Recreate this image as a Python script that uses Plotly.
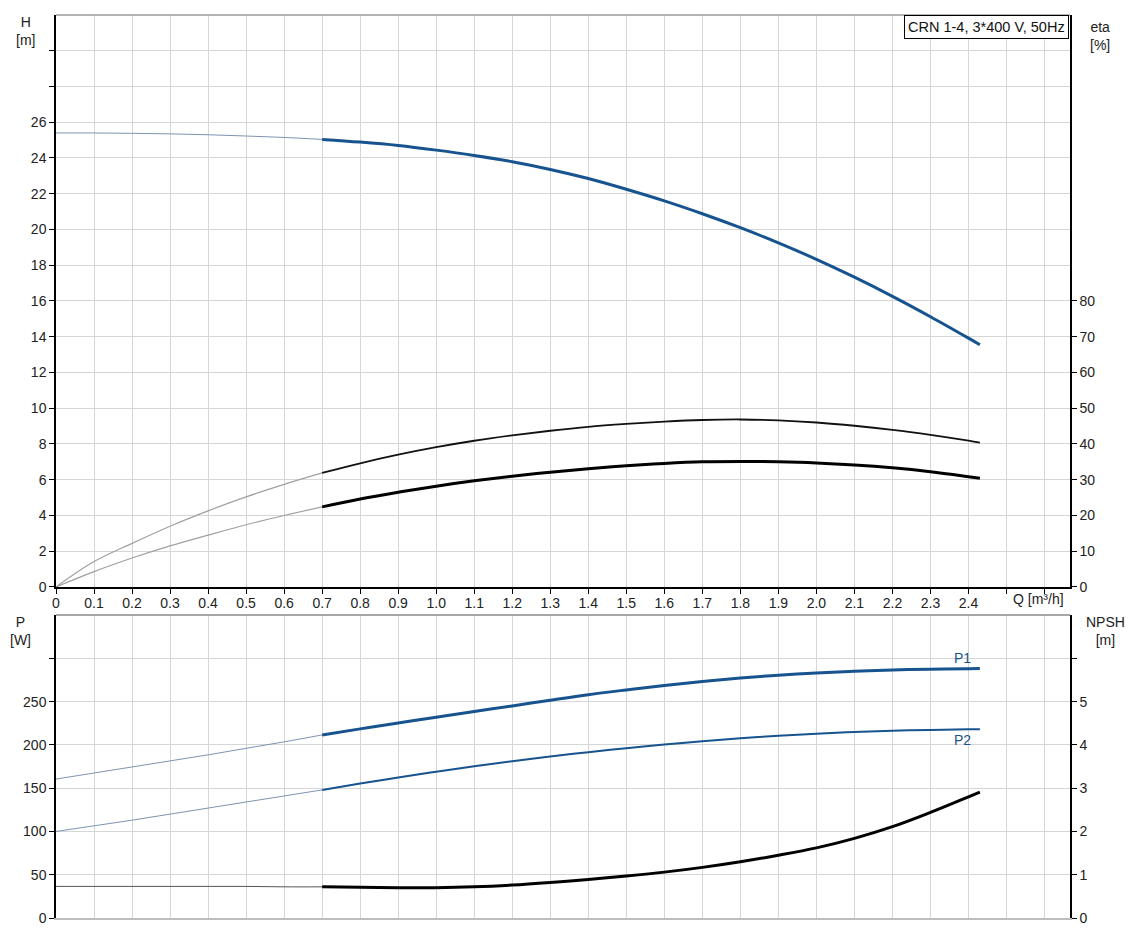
import plotly.graph_objects as go

# ---- data ----
Q = [0.0, 0.1, 0.2, 0.3, 0.4, 0.5, 0.6, 0.7, 0.8, 0.9, 1.0, 1.1, 1.2, 1.3,
     1.4, 1.5, 1.6, 1.7, 1.8, 1.9, 2.0, 2.1, 2.2, 2.3, 2.4, 2.43]
H = [25.4, 25.4, 25.38, 25.35, 25.3, 25.23, 25.15, 25.04, 24.89, 24.7, 24.44,
     24.14, 23.79, 23.36, 22.85, 22.25, 21.6, 20.88, 20.1, 19.25, 18.33, 17.33,
     16.26, 15.12, 13.92, 13.55]
ETA_PUMP = [0.0, 7.1, 12.2, 17.0, 21.3, 25.2, 28.7, 31.9, 34.6, 37.0, 39.1,
            40.9, 42.4, 43.7, 44.8, 45.6, 46.25, 46.7, 46.85, 46.6, 46.0, 45.1,
            43.95, 42.55, 40.95, 40.4]
ETA_TOTAL = [0.0, 4.3, 8.1, 11.5, 14.5, 17.4, 20.0, 22.4, 24.6, 26.5, 28.2,
             29.7, 31.0, 32.1, 33.1, 33.9, 34.55, 35.0, 35.1, 35.0, 34.7, 34.15,
             33.35, 32.25, 30.85, 30.4]
P1 = [160.5, 167.5, 174.5, 181.5, 188.5, 196.0, 203.5, 211.5, 218.5, 225.3,
      232.0, 238.6, 245.0, 251.6, 258.0, 263.5, 268.7, 273.3, 277.3, 280.5,
      283.0, 285.0, 286.5, 287.5, 288.0, 288.1]
P2 = [100.0, 106.5, 113.0, 120.0, 127.0, 134.0, 141.0, 148.0, 155.3, 162.3,
      169.0, 175.3, 181.2, 186.6, 191.6, 196.2, 200.4, 204.2, 207.6, 210.5,
      212.9, 214.8, 216.3, 217.3, 218.0, 218.1]
NPSH = [0.73, 0.73, 0.73, 0.73, 0.73, 0.73, 0.72, 0.72, 0.71, 0.70, 0.70,
        0.72, 0.76, 0.82, 0.89, 0.97, 1.06, 1.17, 1.30, 1.45, 1.62, 1.84,
        2.11, 2.44, 2.80, 2.91]

X_TICKS = [0, 0.1, 0.2, 0.3, 0.4, 0.5, 0.6, 0.7, 0.8, 0.9, 1.0, 1.1, 1.2, 1.3,
           1.4, 1.5, 1.6, 1.7, 1.8, 1.9, 2.0, 2.1, 2.2, 2.3, 2.4, 2.5, 2.6]
X_LABELS = ["0", "0.1", "0.2", "0.3", "0.4", "0.5", "0.6", "0.7", "0.8", "0.9",
            "1.0", "1.1", "1.2", "1.3", "1.4", "1.5", "1.6", "1.7", "1.8", "1.9",
            "2.0", "2.1", "2.2", "2.3", "2.4", "", ""]
H_TICKS = [0, 2, 4, 6, 8, 10, 12, 14, 16, 18, 20, 22, 24, 26, 28, 30]
H_LABELS = ["0", "2", "4", "6", "8", "10", "12", "14", "16", "18", "20", "22",
            "24", "26", "", ""]
ETA_TICKS = [0, 10, 20, 30, 40, 50, 60, 70, 80]
P_TICKS = [0, 50, 100, 150, 200, 250, 300]
P_LABELS = ["0", "50", "100", "150", "200", "250", ""]
NPSH_TICKS = [0, 1, 2, 3, 4, 5, 6]
NPSH_LABELS = ["0", "1", "2", "3", "4", "5", ""]

TITLE = "CRN 1-4, 3*400 V, 50Hz"

BLUE = "#17538f"
THIN_BLUE = "#7d93b3"
GREY = "#a0a0a0"
GRID = "#d6d6d6"
FONT = "Liberation Sans, Arial, sans-serif"
TXT = "#222222"

K = Q.index(0.7)

fig = go.Figure()


def seg(x, y, xa, ya, color, width):
    fig.add_trace(go.Scatter(x=x, y=y, xaxis=xa, yaxis=ya, mode="lines",
                             line=dict(color=color, width=width, shape="spline",
                                       smoothing=1.0),
                             hoverinfo="skip", showlegend=False))


# top panel
seg(Q[:K + 1], H[:K + 1], "x", "y", THIN_BLUE, 1)
seg(Q[K:], H[K:], "x", "y", BLUE, 3)
seg(Q[:K + 1], ETA_PUMP[:K + 1], "x", "y2", GREY, 1.2)
seg(Q[K:], ETA_PUMP[K:], "x", "y2", "#111111", 1.8)
seg(Q[:K + 1], ETA_TOTAL[:K + 1], "x", "y2", GREY, 1.2)
seg(Q[K:], ETA_TOTAL[K:], "x", "y2", "#000000", 3)

# bottom panel
seg(Q[:K + 1], P1[:K + 1], "x2", "y3", THIN_BLUE, 1)
seg(Q[K:], P1[K:], "x2", "y3", BLUE, 3)
seg(Q[:K + 1], P2[:K + 1], "x2", "y3", THIN_BLUE, 1)
seg(Q[K:], P2[K:], "x2", "y3", BLUE, 2)
seg(Q[:K + 1], NPSH[:K + 1], "x2", "y4", "#555555", 1)
seg(Q[K:], NPSH[K:], "x2", "y4", "#000000", 3)

XR = [0, 2.667]
TOP_DOM = [0.3666, 1.0]
BOT_DOM = [0.0, 0.3355]
tickfont = dict(family=FONT, size=14, color=TXT)

fig.update_layout(
    width=1137, height=936,
    margin=dict(l=48, r=75, t=7, b=26, autoexpand=False),
    paper_bgcolor="white", plot_bgcolor="white",
    font=dict(family=FONT, size=14, color=TXT),
    xaxis=dict(domain=[0, 1], range=XR, anchor="y", tickvals=X_TICKS,
               ticktext=X_LABELS, ticks="outside", ticklen=5, tickcolor="#000",
               showline=True, linecolor="#000", linewidth=1.5, showgrid=True,
               gridcolor=GRID, gridwidth=1, zeroline=False, tickfont=tickfont,
               automargin=False, ticklabelstandoff=-3),
    yaxis=dict(domain=TOP_DOM, range=[0, 32], tickvals=H_TICKS,
               ticktext=H_LABELS, ticks="outside", ticklen=5, tickcolor="#000",
               showline=True, linecolor="#000", linewidth=1.5, showgrid=True,
               gridcolor=GRID, zeroline=False, tickfont=tickfont,
               automargin=False),
    yaxis2=dict(overlaying="y", side="right", anchor="x", range=[0, 160],
                tickvals=ETA_TICKS, ticks="outside", ticklen=5,
                tickcolor="#000", showline=True, linecolor="#000",
                linewidth=1.5, showgrid=False, zeroline=False,
                tickfont=tickfont, automargin=False),
    xaxis2=dict(domain=[0, 1], range=XR, anchor="y3", tickvals=X_TICKS,
                showticklabels=False, ticks="", showline=True,
                linecolor="#bdbdbd", linewidth=2, showgrid=True,
                gridcolor=GRID, zeroline=False, automargin=False),
    yaxis3=dict(domain=BOT_DOM, range=[0, 350], tickvals=P_TICKS,
                ticktext=P_LABELS, ticks="outside", ticklen=5,
                tickcolor="#000", showline=True, linecolor="#000",
                linewidth=1.5, showgrid=True, gridcolor=GRID,
                zeroline=False, tickfont=tickfont, anchor="x2",
                automargin=False),
    yaxis4=dict(overlaying="y3", side="right", anchor="x2", range=[0, 7],
                tickvals=NPSH_TICKS, ticktext=NPSH_LABELS, ticks="outside",
                ticklen=5, tickcolor="#000", showline=True, linecolor="#000",
                linewidth=1.5, showgrid=False, zeroline=False,
                tickfont=tickfont, automargin=False),
)

# panel top borders
fig.add_shape(type="line", xref="paper", yref="paper", x0=0, x1=1,
              y0=TOP_DOM[1], y1=TOP_DOM[1], line=dict(color="#9a9a9a", width=1.5))
fig.add_shape(type="line", xref="paper", yref="paper", x0=0, x1=1,
              y0=BOT_DOM[1], y1=BOT_DOM[1], line=dict(color="#8a8a8a", width=1.5))

ann_font = dict(family=FONT, size=14, color=TXT)
fig.add_annotation(text=TITLE, xref="paper", yref="paper", x=0.999, y=1.0,
                   xanchor="right", yanchor="top", showarrow=False,
                   font=dict(family=FONT, size=14.5, color="#111"),
                   bgcolor="white", bordercolor="#000", borderwidth=1,
                   borderpad=3)
fig.add_annotation(text="H<br>[m]", xref="paper", yref="paper", x=-0.030,
                   y=1.003, xanchor="center", yanchor="top", showarrow=False,
                   font=ann_font, align="center")
fig.add_annotation(text="eta<br>[%]", xref="paper", yref="paper", x=1.03,
                   y=0.998, xanchor="center", yanchor="top", showarrow=False,
                   font=ann_font, align="center")
fig.add_annotation(text="P<br>[W]", xref="paper", yref="paper", x=-0.0355,
                   y=BOT_DOM[1] + 0.003, xanchor="center", yanchor="top",
                   showarrow=False, font=ann_font, align="center")
fig.add_annotation(text="NPSH<br>[m]", xref="paper", yref="paper", x=1.035,
                   y=BOT_DOM[1] + 0.003, xanchor="center", yanchor="top",
                   showarrow=False, font=ann_font, align="center")
fig.add_annotation(text="Q [m³/h]", xref="x", yref="paper", x=2.585,
                   y=TOP_DOM[0], xanchor="center", yanchor="top", yshift=-2,
                   showarrow=False, font=ann_font)
fig.add_annotation(text="P1", xref="x2", yref="y3", x=2.385, y=P1[-1],
                   xanchor="center", yanchor="bottom", yshift=1,
                   showarrow=False, font=dict(family=FONT, size=14, color=BLUE))
fig.add_annotation(text="P2", xref="x2", yref="y3", x=2.385, y=P2[-1],
                   xanchor="center", yanchor="top", yshift=-1,
                   showarrow=False, font=dict(family=FONT, size=14, color=BLUE))

fig.write_html("out.html")
